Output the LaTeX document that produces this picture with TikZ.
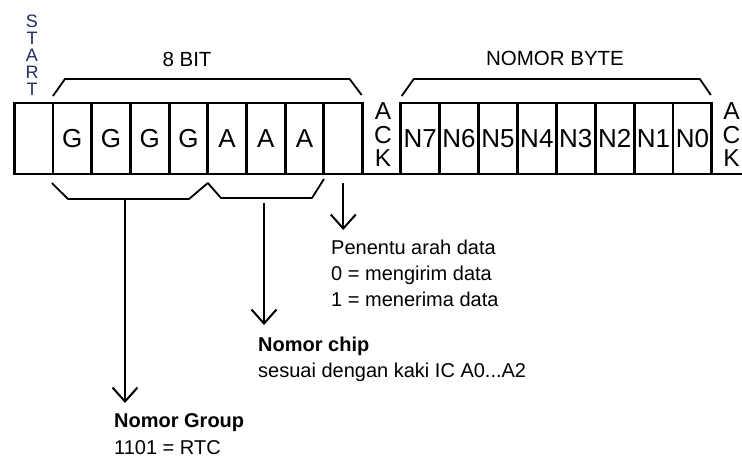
\documentclass[tikz,border=0pt]{standalone}
\usepackage{fontspec}
\setmainfont{Liberation Sans}
\usetikzlibrary{positioning,calc,arrows.meta}

\definecolor{startblue}{RGB}{35,45,95}

\tikzset{
  cell/.style={draw, line width=2.8pt, minimum width=38.8pt, minimum height=71pt,
    inner sep=0pt, outer sep=0pt, font=\fontsize{26}{26}\selectfont},
  brace/.style={line width=1.8pt, line join=round},
  pointer/.style={line width=2.2pt, -{Straight Barb[length=14pt,width=25pt,line width=2pt]}},
  note/.style={anchor=north west, inner sep=0pt, align=left, font=\fontsize{20}{26}\selectfont},
  vert/.style={align=center, inner sep=0pt}
}

\begin{document}
\begin{tikzpicture}[x=1pt, y=1pt]
  \useasboundingbox (0,0) rectangle (742,-461);

  % address byte: start, 4 group bits, 3 chip bits, R/W bit
  \node[cell] (c0) at (33.5,-138.5) {};
  \foreach \lbl [count=\i] in {G,G,G,G,A,A,A,{}}
    \node[cell] (c\i) at ({53+38.7*(\i-1)+19.35},-138.5) {\lbl};

  % data byte N7..N0
  \foreach \k [count=\i] in {7,6,...,0}
    \node[cell] (n\k) at ({400.7+38.9*(\i-1)+19.45},-138.5) {N\k};
  \coordinate (rim) at (742,-174);

  \draw[line width=2.8pt] (c8.south east) -- (n7.south west);
  \draw[line width=2.8pt] (n0.south east) -- (rim);

  % vertical labels
  \node[vert, text=startblue, font=\fontsize{18}{17}\selectfont] (start) at (32,-55) {S\\T\\A\\R\\T};
  \node[vert, font=\fontsize{24.5}{23.5}\selectfont] (ack1) at (383,-135) {A\\C\\K};
  \node[vert, font=\fontsize{24.5}{23.5}\selectfont] (ack2) at (731.5,-135) {A\\C\\K};

  % top braces
  \draw[brace] ($(c1.north west)+(0,7)$) -- ++(12,17) -| ($(c8.north east)+(-13,24)$) -- ($(c8.north east)+(-1,8)$);
  \node[font=\fontsize{20.5}{20.5}\selectfont] (bits) at (187,-59) {8 BIT};
  \draw[brace] ($(n7.north west)+(1,7)$) -- ++(12,17) -| ($(n0.north east)+(-12,24)$) -- ($(n0.north east)+(-1,8)$);
  \node[font=\fontsize{20.5}{20.5}\selectfont] (byte) at (555,-58) {NOMOR BYTE};

  % lower brace over group and chip bits
  \coordinate (gb) at (125,-199);
  \coordinate (cb) at (264,-198);
  \draw[brace] ($(c1.south west)+(-1,-9)$) -- (68,-199) -- (189,-199)
    -- ($(c4.south east)+(0,-9)$) -- (221,-198) -- (312,-198) -- ($(c7.south east)+(0,-5)$);

  % descriptions
  \node[note] (dir) at (331,-240) {Penentu arah data\\0 = mengirim data\\1 = menerima data};
  \node[note, font=\fontsize{20}{25.5}\selectfont] (chip) at (258,-337) {\textbf{Nomor chip}\\sesuai dengan kaki IC A0...A2};
  \node[note, font=\fontsize{20}{27}\selectfont] (grp) at (114,-413) {\textbf{Nomor Group}\\1101 = RTC};

  % pointers
  \draw[pointer] ($(c8.south)+(0,-9)$) -- ($(c8.south |- dir.north)+(0,10)$);
  \draw[pointer] ($(cb)+(0,-5)$) -- ($(cb |- chip.north)+(0,12)$);
  \draw[pointer] (gb) -- ($(gb |- grp.north)+(0,10)$);
\end{tikzpicture}
\end{document}
